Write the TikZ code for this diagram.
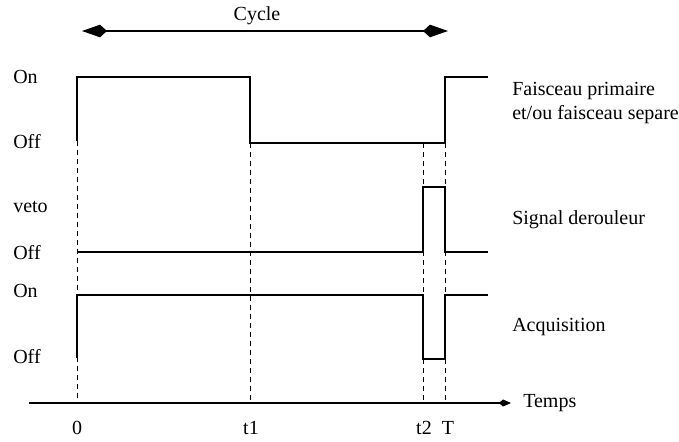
\documentclass[tikz,border=0pt]{standalone}
\usepackage{fontspec}
\setmainfont{Liberation Serif}
\usetikzlibrary{arrows.meta}
\begin{document}
\begin{tikzpicture}[x=0.5pt, y=-0.5pt, font=\fontsize{10}{12}\selectfont, line width=0.6pt]
            \useasboundingbox (0,0) rectangle (679,442);
            % time axis
            \coordinate (start) at (29,403);
            \coordinate (end) at (511,403);
            \draw[-{Kite[length=6pt,width=3.5pt,inset=2pt]}] (start) -- (end);
            \node[anchor=west] (temps) at (516,403) {Temps};
            \node (l0) at (77,428) {0};
            \node (l1) at (251,428) {t1};
            \node (l2) at (424,428) {t2};
            \node (lT) at (448,428) {T};
            % cycle
            \coordinate (cA) at (82,31);
            \coordinate (cB) at (448,31);
            \draw[{Kite[length=12.5pt,width=6.3pt,inset=3.5pt]}-{Kite[length=12.5pt,width=6.3pt,inset=3.5pt]}] (cA) -- (cB);
            \node (cycle) at (257,16) {Cycle};
            % dashed marks
            \draw[dashed, dash pattern=on 2.5pt off 2pt, line width=0.4pt] (77,141) -- (77,403);
            \draw[dashed, dash pattern=on 2.5pt off 2pt, line width=0.4pt] (250,143) -- (250,403);
            \draw[dashed, dash pattern=on 2.5pt off 2pt, line width=0.4pt] (423,143) -- (423,403);
            \draw[dashed, dash pattern=on 2.5pt off 2pt, line width=0.4pt] (445,143) -- (445,403);
            % faisceau
            \draw (77,141) -- (77,77) -- (250,77) -- (250,143) -- (445,143) -- (445,77) -- (488,77);
            % derouleur
            \draw (77,252) -- (423,252) -- (423,187) -- (445,187) -- (445,252) -- (488,252);
            % acquisition
            \draw (77,358) -- (77,295) -- (423,295) -- (423,359) -- (445,359) -- (445,295) -- (488,295);
            % levels
            \node[anchor=west] (on1) at (6,77) {On};
            \node[anchor=west] (off1) at (6,142) {Off};
            \node[anchor=west] (veto) at (6,207) {veto};
            \node[anchor=west] (off2) at (6,253) {Off};
            \node[anchor=west] (on2) at (6,291) {On};
            \node[anchor=west] (off3) at (6,357) {Off};
            % signal names
            \node[anchor=west, align=left] (faisceau) at (505,103) {Faisceau primaire\\et/ou faisceau separe};
            \node[anchor=west] (derouleur) at (505,220) {Signal derouleur};
            \node[anchor=west] (acq) at (505,327) {Acquisition};
        \end{tikzpicture}
\end{document}
